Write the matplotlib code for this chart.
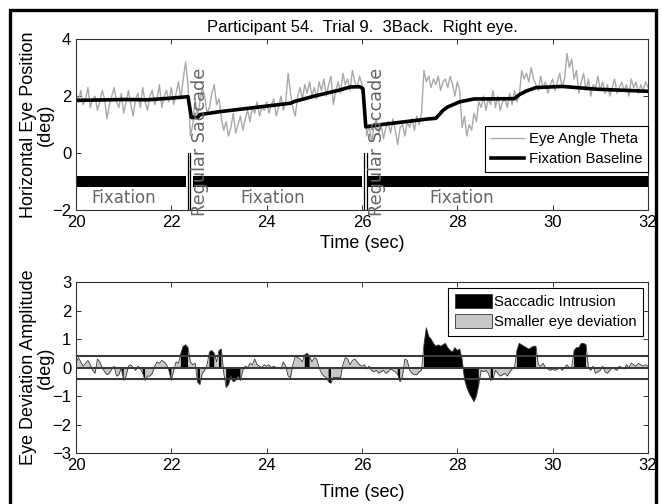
import numpy as np
import matplotlib
matplotlib.use("Agg")
import matplotlib.pyplot as plt
from matplotlib.patches import Rectangle, Patch

plt.rcParams['font.family'] = ['Liberation Sans', 'DejaVu Sans']

# ---- data ----
t_start, t_step = 20.0, 0.05

# eye angle theta (deg), one value every 0.05 s from 20 to 32
theta = [
    2.1, 1.8, 2.2, 1.7, 1.9, 2.3, 1.6, 1.9, 2.0, 1.5, 1.8, 2.2, 1.9, 1.2, 1.7, 2.0, 2.3, 1.8, 1.6, 2.1,
    1.4, 1.8, 2.2, 1.7, 1.3, 1.9, 2.1, 1.6, 2.3, 1.8, 1.5, 2.0, 2.2, 1.7, 1.9, 2.4, 1.6, 2.0, 2.2, 1.8,
    2.3, 1.7, 2.1, 2.5, 1.9, 2.6, 3.2, 2.4, 0.6, 1.0, 1.9, 1.3, 1.8, 2.3, 2.0, 1.4, 1.6, 2.1, 2.4, 1.7,
    1.9, 1.2, 0.8, 1.1, 0.6, 0.9, 1.4, 0.7, 1.0, 1.3, 0.8, 1.2, 1.5, 1.1, 1.6, 1.4, 1.8, 1.3, 1.6, 1.5,
    1.8, 1.4, 1.7, 1.9, 1.3, 1.6, 2.0, 1.5, 1.8, 2.8, 2.1, 1.6, 1.3, 2.0, 2.3, 1.9, 2.4, 2.1, 2.5, 2.0,
    2.3, 1.9, 2.5, 2.2, 2.6, 2.0, 2.4, 2.7, 1.7, 2.2, 2.5, 2.1, 2.8, 2.4, 2.6, 2.2, 2.9, 2.5, 2.3, 2.7,
    2.4, 1.8, 0.6, 1.0, 0.4, 0.9, 1.2, 0.7, 1.0, 0.5, 0.9, 1.1, 0.7, 1.2, 0.8, 0.3, 0.9, 1.0, 0.6, 1.1,
    0.9, 1.2, 0.8, 1.3, 1.0, 1.4, 2.9, 2.5, 2.7, 2.3, 2.6, 2.4, 2.7, 2.2, 2.5, 2.6, 2.3, 2.7, 2.4, 2.0,
    2.5, 2.2, 0.9, 1.3, 0.6, 1.0, 0.8, 1.4, 1.1, 1.8, 1.6, 2.0, 1.5, 1.9, 1.7, 2.2, 1.6, 2.0, 1.5, 1.8,
    1.9, 1.6, 2.1, 1.7, 2.2, 1.8, 2.0, 2.9, 2.6, 2.8, 2.5, 3.0, 2.6, 2.4, 2.2, 2.7, 2.3, 2.5, 2.1, 2.4,
    2.6, 2.2, 2.5, 2.8, 2.3, 2.6, 3.5, 3.0, 3.3, 2.6, 2.9, 2.1, 2.5, 2.8, 2.2, 2.6, 2.0, 2.4, 2.3, 2.7,
    2.2, 2.5, 2.1, 2.4, 2.0, 2.3, 2.6, 2.1, 2.3, 2.5, 2.2, 2.4, 2.0, 2.6, 2.3, 2.5, 2.1, 2.4, 2.2, 2.5, 2.3,
]

# fixation baseline (deg)
base_t = [20.0, 21.0, 21.5, 22.0, 22.35, 22.42, 22.55, 22.6, 23.0, 23.5, 24.0, 24.5, 24.6,
          25.0, 25.5, 25.75, 25.95, 26.02, 26.08, 26.4, 27.0, 27.4, 27.55, 27.7, 27.8,
          28.05, 28.35, 29.2, 29.3, 29.45, 29.65, 30.2, 30.95, 32.0]
base_v = [1.85, 1.88, 1.87, 1.93, 1.98, 1.25, 1.25, 1.35, 1.45, 1.55, 1.65, 1.75, 1.82,
          2.0, 2.2, 2.32, 2.33, 2.26, 0.92, 1.0, 1.12, 1.2, 1.22, 1.5, 1.62,
          1.8, 1.9, 1.91, 2.05, 2.18, 2.3, 2.34, 2.24, 2.17]

# fixation segments (start, end) and saccade times
fix_segments = [(20.0, 22.31), (22.46, 25.99), (26.13, 32.0)]
fix_labels_t = [21.0, 24.12, 28.1]
saccade_t = [22.34, 26.04]
saccade_label_t = [22.6, 26.31]

# eye deviation amplitude (deg), one value every 0.05 s
deviation = [
    0.15, 0.35, 0.2, 0.05, 0.15, 0.25, 0.1, -0.1, -0.2, 0.3, 0.2, 0.0, -0.15, -0.25, -0.2, -0.05, 0.05, -0.3, -0.25, 0.0,
    -0.45, -0.3, 0.05, 0.1, 0.0, -0.1, 0.05, -0.05, -0.2, -0.45, -0.3, -0.3, -0.2, 0.05, 0.2, 0.15, 0.25, 0.2, 0.1, -0.1,
    -0.45, -0.1, 0.2, 0.15, 0.5, 0.75, 0.8, 0.7, 0.2, 0.1, 0.15, -0.5, -0.6, -0.2, -0.1, 0.1, 0.55, 0.6, 0.5, 0.2,
    0.6, 0.65, -0.2, -0.7, -0.6, -0.3, -0.5, -0.45, -0.3, -0.45, -0.1, 0.05, 0.0, 0.15, 0.1, 0.3, 0.1, 0.05, 0.0, 0.1,
    0.05, 0.1, 0.0, 0.05, 0.0, 0.0, -0.05, 0.2, 0.05, -0.3, -0.35, 0.1, 0.4, 0.35, 0.3, 0.2, 0.45, 0.5, 0.4, 0.2,
    0.35, 0.3, 0.0, -0.2, -0.3, -0.35, -0.5, -0.55, -0.35, -0.35, -0.35, -0.35, 0.1, 0.35, 0.3, 0.1, 0.25, 0.3, 0.2, 0.1,
    0.05, 0.1, -0.05, 0.05, -0.1, -0.15, -0.1, -0.2, -0.15, -0.1, -0.2, -0.15, -0.05, -0.1, -0.15, -0.25, -0.5, -0.3, 0.3, 0.25,
    -0.1, -0.2, -0.25, -0.25, -0.15, -0.1, 0.8, 1.4, 1.1, 1.0, 0.85, 0.75, 0.8, 0.75, 0.8, 0.85, 0.7, 0.6, 0.55, 0.7,
    0.6, 0.65, 0.3, -0.4, -0.7, -0.9, -1.05, -1.2, -1.0, -0.6, -0.1, -0.15, -0.1, -0.2, -0.45, -0.4, -0.1, -0.2, -0.3, -0.25,
    -0.2, -0.3, -0.15, -0.05, 0.0, 0.6, 0.85, 0.8, 0.75, 0.7, 0.65, 0.7, 0.75, 0.75, 0.1, 0.05, 0.15, 0.0, -0.05, -0.1,
    -0.05, -0.1, -0.05, 0.0, -0.1, 0.0, 0.1, 0.0, 0.0, 0.6, 0.7, 0.7, 0.85, 0.85, 0.8, 0.0, -0.1, 0.05, -0.2, -0.15,
    -0.1, 0.05, -0.15, -0.2, -0.1, 0.0, -0.05, -0.1, 0.05, 0.0, -0.05, 0.1, 0.0, 0.15, 0.1, 0.05, 0.15, 0.1, 0.05, 0.1, 0.05,
]

# saccadic intrusion intervals (start, end)
intrusions = [(20.95, 21.0), (21.4, 21.45), (21.95, 22.0), (22.2, 22.35), (22.55, 22.6),
              (22.8, 22.9), (23.0, 23.05), (23.15, 23.35), (23.4, 23.45), (24.8, 24.9),
              (25.3, 25.35), (26.75, 26.8), (27.3, 28.45), (28.7, 28.75), (29.25, 29.65),
              (30.45, 30.7)]
threshold = 0.4

t = t_start + t_step * np.arange(len(theta))
dev = np.array(deviation)

fig = plt.figure(figsize=(6.62, 5.04), dpi=100)
fig.patches.append(Rectangle((10 / 662, -0.05), 646 / 662, 1.05 - 10 / 504,
                             transform=fig.transFigure, fill=False, lw=2.4,
                             edgecolor='black'))

def style(ax):
    ax.tick_params(direction='in', top=True, right=True, length=3.5,
                   labelsize=12, width=0.7, color='#333333')
    for s in ax.spines.values():
        s.set_linewidth(0.8)
        s.set_color('#333333')
    ax.set_xlim(20, 32)
    ax.set_xticks(np.arange(20, 33, 2))

# ---- top panel ----
ax1 = fig.add_axes([0.1148, 0.5833, 0.864, 0.339])
style(ax1)
ax1.set_xlabel('Time (sec)', fontsize=13, labelpad=4)
ax1.set_ylim(-2, 4)
ax1.set_yticks([-2, 0, 2, 4])
ax1.plot(t, theta, color='#a9a9a9', lw=1.0, label='Eye Angle Theta')
ax1.plot(base_t, base_v, color='black', lw=2.6, label='Fixation Baseline')
ax1.broken_barh([(a, b - a) for a, b in fix_segments], (-1.18, 0.38),
                facecolor='black')
for st in saccade_t:
    ax1.plot([st, st], [-2, 0], color='black', lw=0.9)
    ax1.plot([st + 0.06, st + 0.06], [-2, 0], color='black', lw=0.9)
for ft in fix_labels_t:
    ax1.text(ft, -1.58, 'Fixation', family='DejaVu Sans', fontsize=12,
             color='#666666', ha='center', va='center')
for st in saccade_label_t:
    ax1.text(st, -2.2, 'Regular Saccade', family='DejaVu Sans', fontsize=12.7,
             color='#666666', rotation=90, ha='center', va='bottom', clip_on=False)
ax1.set_ylabel('Horizontal Eye Position\n(deg)', fontsize=13, va='center',
               linespacing=1.0)
ax1.yaxis.set_label_coords(-0.069, 0.5)
ax1.set_title('Participant 54.  Trial 9.  3Back.  Right eye.', fontsize=12, pad=5)
leg1 = ax1.legend(loc='lower right', bbox_to_anchor=(1.0, 0.22), fontsize=10.7,
                  fancybox=False, framealpha=1, edgecolor='black',
                  handlelength=2.2, handletextpad=0.3, borderpad=0.4,
                  labelspacing=0.45, borderaxespad=0)
leg1.get_frame().set_linewidth(0.8)

# ---- bottom panel ----
ax2 = fig.add_axes([0.1148, 0.1012, 0.864, 0.339])
style(ax2)
ax2.set_xlabel('Time (sec)', fontsize=13, labelpad=8)
ax2.set_ylim(-3, 3)
ax2.set_yticks(np.arange(-3, 4, 1))
mask = np.zeros(len(t), dtype=bool)
for a, b in intrusions:
    mask |= (t >= a - 1e-9) & (t <= b + 1e-9)
ax2.fill_between(t, 0, dev, color='#c8c8c8', lw=0)
ax2.fill_between(t, 0, dev, where=mask, color='black', lw=0)
ax2.plot(t, dev, color='#3a3a3a', lw=0.6)
for y in [threshold, 0, -threshold]:
    ax2.axhline(y, color='#3a3a3a', lw=1.5)
ax2.set_ylabel('Eye Deviation Amplitude\n(deg)', fontsize=13, va='center',
               linespacing=1.0)
ax2.yaxis.set_label_coords(-0.069, 0.5)
handles = [Patch(facecolor='black', edgecolor='#333333', lw=0.6),
           Patch(facecolor='#c8c8c8', edgecolor='#333333', lw=0.6)]
leg2 = ax2.legend(handles, ['Saccadic Intrusion', 'Smaller eye deviation'],
                  loc='upper right', bbox_to_anchor=(0.992, 0.967), fontsize=10.7,
                  fancybox=False, framealpha=1, edgecolor='black',
                  handlelength=2.5, handleheight=1.0, handletextpad=0.15,
                  borderpad=0.45, labelspacing=0.35, borderaxespad=0)
leg2.get_frame().set_linewidth(0.8)

fig.savefig('out.png', dpi=100)
